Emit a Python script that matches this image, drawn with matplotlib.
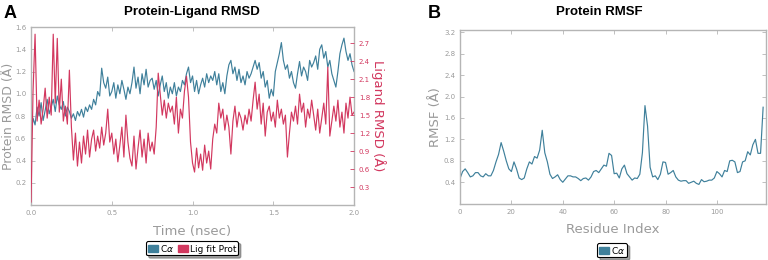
import numpy as np
import matplotlib
matplotlib.use('Agg')
import matplotlib.pyplot as plt
from matplotlib.patches import Patch

# Protein-Ligand RMSD, sampled every 0.0125 ns
time_ns = np.linspace(0, 2.0, 161)
ca_rmsd = [
    0.62, 0.78, 0.72, 0.88, 0.80, 0.92, 0.76, 0.85, 0.95, 0.82,
    0.88, 0.95, 0.84, 0.98, 0.90, 0.86, 0.93, 0.80, 0.88, 0.84,
    0.78, 0.82, 0.76, 0.84, 0.80, 0.86, 0.79, 0.88, 0.84, 0.90,
    0.86, 0.95, 0.90, 1.02, 0.98, 1.23, 1.10, 1.05, 1.15, 0.98,
    1.02, 1.10, 0.96, 1.08, 1.00, 1.12, 1.04, 0.95, 1.06, 1.00,
    1.10, 1.24, 1.05, 1.15, 1.00, 1.18, 1.08, 1.22, 1.06, 1.12,
    1.14, 1.04, 1.12, 0.98, 1.08, 1.16, 1.02, 1.10, 0.96, 1.06,
    1.00, 1.10, 0.98, 1.06, 1.02, 1.12, 1.08, 1.18, 1.24, 1.10,
    1.16, 1.02, 1.12, 1.00, 1.08, 1.14, 1.06, 1.18, 1.10, 1.16,
    1.12, 1.20, 1.08, 1.18, 1.02, 1.10, 1.00, 1.16, 1.26, 1.30,
    1.18, 1.24, 1.12, 1.22, 1.10, 1.16, 1.08, 1.20, 1.14, 1.18,
    1.24, 1.30, 1.22, 1.28, 1.14, 1.20, 1.06, 1.12, 0.96, 1.04,
    0.98, 1.20, 1.28, 1.36, 1.46, 1.30, 1.22, 1.26, 1.14, 1.20,
    1.10, 1.05, 1.18, 1.29, 1.16, 1.24, 1.20, 1.12, 1.30, 1.24,
    1.28, 1.34, 1.22, 1.40, 1.44, 1.32, 1.38, 1.24, 1.30, 1.18,
    1.12, 1.06, 1.20, 1.36, 1.44, 1.50, 1.38, 1.30, 1.36, 1.26,
    1.20,
]
lig_rmsd = [
    0.05, 1.90, 2.85, 1.40, 1.75, 1.35, 1.60, 1.95, 1.45, 1.80,
    1.50, 2.85, 1.70, 2.78, 1.55, 2.10, 1.40, 1.65, 1.35, 2.25,
    1.30, 0.75, 1.20, 0.65, 1.05, 0.70, 1.15, 0.85, 1.25, 0.80,
    1.10, 1.25, 0.90, 1.15, 0.95, 1.30, 1.00, 1.20, 1.60, 1.05,
    1.20, 0.85, 1.10, 0.72, 1.00, 1.30, 0.80, 1.50, 1.05, 0.78,
    0.65, 1.15, 0.60, 0.95, 1.25, 0.80, 1.10, 0.70, 1.20, 0.90,
    1.05, 0.85, 1.30, 2.20, 1.85, 1.50, 1.75, 1.45, 1.70, 1.55,
    1.65, 1.35, 1.80, 1.20, 1.60, 1.45, 1.90, 2.15, 1.80, 1.05,
    0.70, 0.55, 0.95, 0.62, 0.85, 0.58, 1.00, 0.70, 0.90, 0.60,
    1.10, 1.35, 1.20, 1.70, 1.45, 1.60, 1.25, 1.50, 1.30, 0.85,
    1.40, 1.65, 1.30, 1.55, 1.45, 1.25, 1.50, 1.35, 1.60, 1.40,
    1.75, 2.05, 1.60, 1.85, 1.35, 1.70, 1.15, 1.55, 1.65, 1.40,
    1.55, 1.30, 1.75, 1.45, 1.60, 1.35, 1.50, 0.80, 1.20, 1.55,
    1.40, 1.65, 1.35, 1.85, 1.55, 1.70, 1.30, 1.60, 1.45, 1.75,
    1.50, 1.25, 1.60, 1.20, 1.45, 1.70, 1.35, 2.30, 1.15, 1.40,
    1.65, 1.40, 1.75, 1.30, 1.55, 1.20, 1.70, 1.45, 1.80, 1.50,
    1.55,
]

# Protein RMSF per residue
residues = np.arange(119)
rmsf = [
    0.47, 0.60, 0.65, 0.58, 0.50, 0.52, 0.58, 0.58, 0.52, 0.50,
    0.56, 0.52, 0.52, 0.62, 0.78, 0.92, 1.14, 0.98, 0.80, 0.65,
    0.60, 0.78, 0.65, 0.48, 0.45, 0.48, 0.65, 0.78, 0.74, 0.88,
    0.85, 1.00, 1.37, 0.95, 0.78, 0.55, 0.47, 0.50, 0.54, 0.45,
    0.40, 0.46, 0.52, 0.52, 0.50, 0.50, 0.47, 0.43, 0.47, 0.48,
    0.44, 0.50, 0.60, 0.62, 0.58, 0.65, 0.72, 0.70, 0.94, 0.90,
    0.56, 0.57, 0.48, 0.65, 0.72, 0.56, 0.50, 0.44, 0.48, 0.47,
    0.55, 0.95, 1.83, 1.45, 0.68, 0.50, 0.52, 0.45, 0.55, 0.78,
    0.77, 0.55, 0.58, 0.62, 0.50, 0.44, 0.42, 0.43, 0.43, 0.38,
    0.40, 0.42, 0.38, 0.36, 0.45, 0.41, 0.42, 0.44, 0.44, 0.48,
    0.60, 0.56, 0.50, 0.62, 0.60, 0.80, 0.81, 0.78, 0.58, 0.60,
    0.78, 0.80, 0.97, 0.91, 1.10, 1.20, 0.94, 0.94, 1.80,
]

blue = '#3f809b'
red = '#d2385f'
grey = '#9a9a9a'
frame = '#b5b5b5'

plt.rcParams['font.family'] = 'DejaVu Sans'
fig = plt.figure(figsize=(7.68, 2.6), dpi=100)


def style(ax, label_color=grey):
    for s in ax.spines.values():
        s.set_color(frame)
        s.set_linewidth(1.0)
    ax.tick_params(direction='in', length=3, width=0.6, colors=frame,
                   labelsize=5, labelcolor=label_color, top=True, right=True)


ax1 = fig.add_axes([0.0404, 0.2115, 0.4206, 0.6846])
ax1.plot(time_ns, ca_rmsd, color=blue, lw=0.85)
ax1.set_xlim(0, 2.0)
ax1.set_ylim(0, 1.6)
ax1.set_xticks([0.0, 0.5, 1.0, 1.5, 2.0])
ax1.set_yticks([0.2, 0.4, 0.6, 0.8, 1.0, 1.2, 1.4, 1.6])
style(ax1)
ax1.set_xlabel('Time (nsec)', color=grey, fontsize=9.5)
ax1.xaxis.set_label_coords(0.5, -0.11)
ax1.set_ylabel('Protein RMSD (Å)', color=grey, fontsize=9)
ax1.yaxis.set_label_coords(-0.05, 0.5)

ax2 = ax1.twinx()
ax2.plot(time_ns, lig_rmsd, color=red, lw=0.85)
ax2.set_ylim(0, 2.97)
ax2.set_yticks([0.3, 0.6, 0.9, 1.2, 1.5, 1.8, 2.1, 2.4, 2.7])
for s in ax2.spines.values():
    s.set_visible(False)
ax2.tick_params(direction='in', length=3, width=0.6, colors=red,
                labelsize=5, labelcolor=red)
fig.text(378 / 768, 0.555, 'Ligand RMSD (Å)', color=red, fontsize=9.5,
         rotation=270, ha='center', va='center')

ax3 = fig.add_axes([0.599, 0.2165, 0.398, 0.668])
ax3.plot(residues, rmsf, color=blue, lw=0.85)
ax3.set_xlim(0, 119)
ax3.set_ylim(0, 3.24)
ax3.set_xticks([0, 20, 40, 60, 80, 100])
ax3.set_yticks([0.4, 0.8, 1.2, 1.6, 2.0, 2.4, 2.8, 3.2])
style(ax3)
ax3.set_xlabel('Residue Index', color=grey, fontsize=9.5)
ax3.xaxis.set_label_coords(0.5, -0.11)
ax3.set_ylabel('RMSF (Å)', color=grey, fontsize=9.5)
ax3.yaxis.set_label_coords(-0.06, 0.5)

fig.text(0.25, 0.955, 'Protein-Ligand RMSD', ha='center', va='center',
         fontsize=9.5, fontweight='bold', family='Liberation Sans')
fig.text(0.78, 0.955, 'Protein RMSF', ha='center', va='center',
         fontsize=9.5, fontweight='bold', family='Liberation Sans')
fig.text(0.004, 0.95, 'A', ha='left', va='center', fontsize=13,
         fontweight='bold', family='Liberation Sans')
fig.text(0.557, 0.95, 'B', ha='left', va='center', fontsize=13,
         fontweight='bold', family='Liberation Sans')

leg_kw = dict(ncol=2, fontsize=6.5, frameon=True, fancybox=True, shadow=True,
              handlelength=1.1, handleheight=0.8, handletextpad=0.25,
              columnspacing=0.4, borderpad=0.2, borderaxespad=0,
              edgecolor='black')
l1 = fig.legend([Patch(color=blue), Patch(color=red)],
                [r'C$\alpha$', 'Lig fit Prot'], loc='center',
                bbox_to_anchor=(0.25, 0.046), **leg_kw)
l2 = fig.legend([Patch(color=blue)], [r'C$\alpha$'], loc='center',
                bbox_to_anchor=(0.797, 0.038), **leg_kw)
for lg in (l1, l2):
    lg.get_frame().set_linewidth(0.8)

fig.savefig('out.png', dpi=100)
